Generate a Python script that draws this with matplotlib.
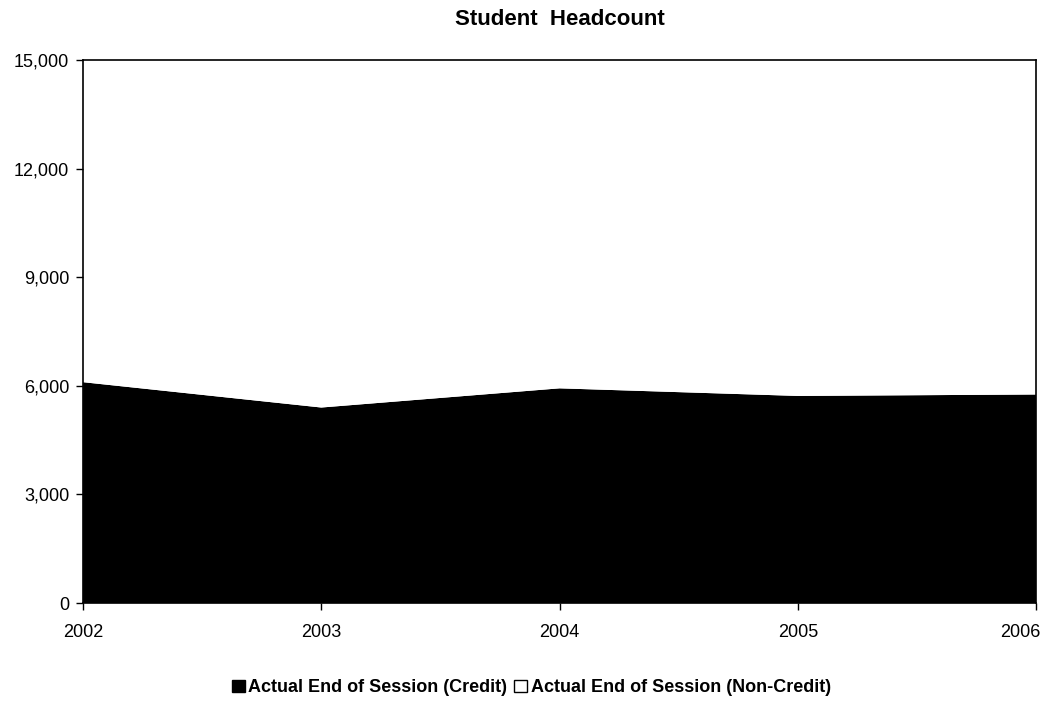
import matplotlib.pyplot as plt
from matplotlib.patches import Patch
from matplotlib.ticker import FuncFormatter
from matplotlib.transforms import ScaledTranslation

plt.rcParams['font.family'] = ['Liberation Sans', 'DejaVu Sans']

# Data
years = [2002, 2003, 2004, 2005, 2006]
credit = [6100, 5400, 5930, 5720, 5760]
# non-credit area is drawn white on white, values cannot be read; estimates
non_credit = [7400, 7700, 7500, 7800, 8000]

fig = plt.figure(figsize=(10.42, 7.01), dpi=100)
ax = fig.add_axes([0.0797, 0.1398, 0.9146, 0.7746])

ax.stackplot(years, credit, non_credit, colors=['black', 'white'], linewidth=0)

ax.set_xlim(2002, 2006)
ax.set_ylim(0, 15000)
ax.set_xticks(years)
ax.set_yticks(range(0, 15001, 3000))
ax.yaxis.set_major_formatter(FuncFormatter(lambda v, p: f"{int(v):,}"))
ax.tick_params(axis='both', direction='out', length=5, width=1, labelsize=13, colors='black')
ax.tick_params(axis='x', pad=10)
ax.tick_params(axis='y', pad=5)
for s in ax.spines.values():
    s.set_color('black')
    s.set_linewidth(1.2)

# keep the last year label inside the figure
last = ax.get_xticklabels()[-1]
last.set_horizontalalignment('right')
last.set_transform(last.get_transform() + ScaledTranslation(0.04, 0, fig.dpi_scale_trans))

ax.set_title("Student  Headcount", fontsize=16, fontweight='bold', pad=25)

handles = [Patch(facecolor='black', edgecolor='black', label='Actual End of Session (Credit)'),
           Patch(facecolor='white', edgecolor='black', label='Actual End of Session (Non-Credit)')]
fig.legend(handles=handles, loc='center', bbox_to_anchor=(0.51, 0.019), ncol=2, frameon=False,
           prop={'weight': 'bold', 'size': 13}, handlelength=0.7, handleheight=0.7,
           handletextpad=0.2, columnspacing=0.4)

fig.savefig("out.png", dpi=100)
